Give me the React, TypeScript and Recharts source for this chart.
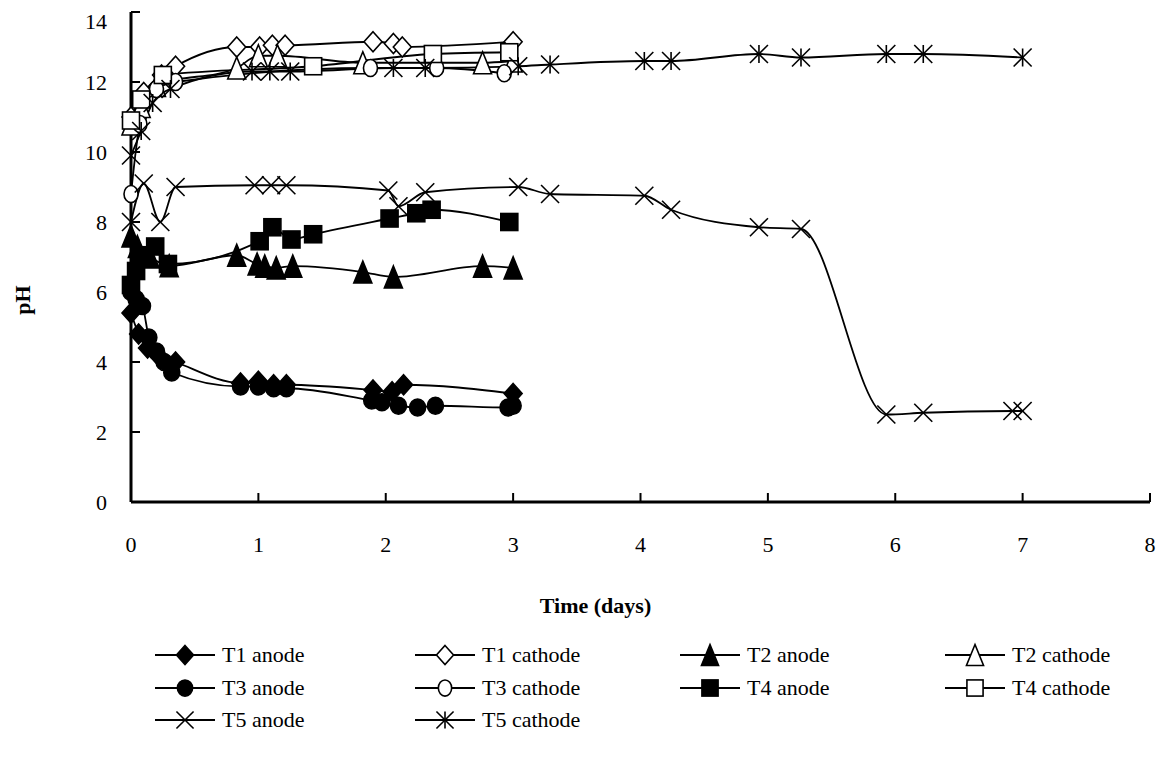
import React from 'react';
import { LineChart, Line, XAxis, YAxis } from 'recharts';

const FONT = '"Liberation Serif", "Times New Roman", Times, serif';

// ---- data (time in days, pH) ----
const t1AnodeTime = [0, 0.06, 0.13, 0.21, 0.35, 0.86, 1.0, 1.12, 1.22, 1.9, 2.05, 2.14, 3.0];
const t1AnodePH = [5.4, 4.8, 4.4, 4.2, 4.0, 3.4, 3.45, 3.35, 3.35, 3.2, 3.15, 3.35, 3.1];

const t1CathodeTime = [0, 0.1, 0.24, 0.35, 0.83, 1.01, 1.11, 1.21, 1.9, 2.06, 2.13, 3.0];
const t1CathodePH = [11.0, 11.7, 12.2, 12.45, 13.0, 13.0, 13.05, 13.05, 13.15, 13.1, 13.0, 13.15];

const t2AnodeTime = [0, 0.05, 0.15, 0.3, 0.83, 0.99, 1.05, 1.14, 1.27, 1.82, 2.06, 2.76, 3.0];
const t2AnodePH = [7.6, 7.3, 7.0, 6.75, 7.05, 6.8, 6.74, 6.69, 6.74, 6.57, 6.43, 6.74, 6.69];

const t2CathodeTime = [0, 0.08, 0.2, 0.83, 1.0, 1.15, 1.82, 2.76, 3.0];
const t2CathodePH = [10.8, 11.3, 11.9, 12.4, 12.75, 12.75, 12.55, 12.55, 12.6];

const t3AnodeTime = [0, 0.04, 0.09, 0.14, 0.2, 0.26, 0.32, 0.86, 1.0, 1.12, 1.22, 1.89, 1.97, 2.1, 2.25, 2.39, 2.96, 3.0];
const t3AnodePH = [6.0, 5.8, 5.6, 4.7, 4.3, 4.0, 3.7, 3.3, 3.3, 3.25, 3.25, 2.9, 2.85, 2.75, 2.7, 2.75, 2.7, 2.75];

const t3CathodeTime = [0, 0.07, 0.2, 0.35, 1.88, 2.4, 2.93];
const t3CathodePH = [8.8, 10.8, 11.8, 12.0, 12.4, 12.4, 12.25];

const t4AnodeTime = [0, 0.04, 0.08, 0.19, 0.29, 1.01, 1.11, 1.26, 1.43, 2.03, 2.24, 2.36, 2.97];
const t4AnodePH = [6.2, 6.6, 7.05, 7.3, 6.8, 7.45, 7.85, 7.5, 7.65, 8.1, 8.25, 8.35, 8.0];

const t4CathodeTime = [0, 0.08, 0.25, 1.43, 2.37, 2.97];
const t4CathodePH = [10.9, 11.5, 12.2, 12.45, 12.8, 12.85];

const t5AnodeTime = [0, 0.1, 0.23, 0.35, 0.97, 1.1, 1.22, 2.02, 2.1, 2.31, 3.04, 3.29, 4.03, 4.24, 4.93, 5.26, 5.93, 6.22, 6.92, 7.0];
const t5AnodePH = [8.0, 9.1, 8.0, 9.0, 9.05, 9.05, 9.05, 8.9, 8.45, 8.85, 9.0, 8.8, 8.75, 8.35, 7.85, 7.8, 2.5, 2.55, 2.6, 2.6];

const t5CathodeTime = [0, 0.08, 0.17, 0.31, 0.95, 1.09, 1.25, 2.06, 2.31, 3.04, 3.29, 4.03, 4.24, 4.93, 5.26, 5.93, 6.22, 7.0];
const t5CathodePH = [9.9, 10.6, 11.4, 11.8, 12.3, 12.3, 12.3, 12.4, 12.4, 12.45, 12.5, 12.6, 12.6, 12.8, 12.7, 12.8, 12.8, 12.7];

const xTicks = [0, 1, 2, 3, 4, 5, 6, 7, 8];
const yTicks = [0, 2, 4, 6, 8, 10, 12, 14];

type Kind = 'diamond' | 'triangle' | 'circle' | 'square' | 'x' | 'star';

const zip = (ts: number[], ps: number[]) => ts.map((t, i) => ({ t, ph: ps[i] }));

const seriesList: { name: string; data: { t: number; ph: number }[]; kind: Kind; filled: boolean }[] = [
  { name: 'T1 anode', data: zip(t1AnodeTime, t1AnodePH), kind: 'diamond', filled: true },
  { name: 'T1 cathode', data: zip(t1CathodeTime, t1CathodePH), kind: 'diamond', filled: false },
  { name: 'T2 anode', data: zip(t2AnodeTime, t2AnodePH), kind: 'triangle', filled: true },
  { name: 'T2 cathode', data: zip(t2CathodeTime, t2CathodePH), kind: 'triangle', filled: false },
  { name: 'T3 anode', data: zip(t3AnodeTime, t3AnodePH), kind: 'circle', filled: true },
  { name: 'T3 cathode', data: zip(t3CathodeTime, t3CathodePH), kind: 'circle', filled: false },
  { name: 'T4 anode', data: zip(t4AnodeTime, t4AnodePH), kind: 'square', filled: true },
  { name: 'T4 cathode', data: zip(t4CathodeTime, t4CathodePH), kind: 'square', filled: false },
  { name: 'T5 anode', data: zip(t5AnodeTime, t5AnodePH), kind: 'x', filled: false },
  { name: 'T5 cathode', data: zip(t5CathodeTime, t5CathodePH), kind: 'star', filled: false },
];

function Marker({ cx, cy, kind, filled, s = 1 }: { cx: number; cy: number; kind: Kind; filled: boolean; s?: number }) {
  const fill = filled ? '#000' : '#fff';
  const sw = 1.6;
  switch (kind) {
    case 'diamond': {
      const w = 9 * s, h = 10 * s;
      return <polygon points={`${cx},${cy - h} ${cx + w},${cy} ${cx},${cy + h} ${cx - w},${cy}`} fill={fill} stroke="#000" strokeWidth={sw} />;
    }
    case 'triangle': {
      const w = 9 * s, h = 11 * s;
      return <polygon points={`${cx},${cy - h} ${cx + w},${cy + h} ${cx - w},${cy + h}`} fill={fill} stroke="#000" strokeWidth={sw} />;
    }
    case 'circle':
      return filled
        ? <ellipse cx={cx} cy={cy} rx={8 * s} ry={8.5 * s} fill="#000" stroke="#000" strokeWidth={sw} />
        : <ellipse cx={cx} cy={cy} rx={7 * s} ry={8.5 * s} fill="#fff" stroke="#000" strokeWidth={sw} />;
    case 'square': {
      const h = 8.5 * s;
      return <rect x={cx - h} y={cy - h} width={2 * h} height={2 * h} fill={fill} stroke="#000" strokeWidth={sw} />;
    }
    case 'x': {
      const h = 9 * s;
      return (
        <g stroke="#000" strokeWidth={sw}>
          <line x1={cx - h} y1={cy - h} x2={cx + h} y2={cy + h} />
          <line x1={cx - h} y1={cy + h} x2={cx + h} y2={cy - h} />
        </g>
      );
    }
    case 'star': {
      const h = 9 * s;
      return (
        <g stroke="#000" strokeWidth={sw}>
          <line x1={cx - h} y1={cy - h} x2={cx + h} y2={cy + h} />
          <line x1={cx - h} y1={cy + h} x2={cx + h} y2={cy - h} />
          <line x1={cx} y1={cy - h} x2={cx} y2={cy + h} />
        </g>
      );
    }
  }
  return null;
}

const makeDot = (kind: Kind, filled: boolean) => (p: any) => {
  if (p == null || p.cx == null || p.cy == null) return <g key={`e-${p?.index}`} />;
  return (
    <g key={`d-${kind}-${filled}-${p.index}`}>
      <Marker cx={p.cx} cy={p.cy} kind={kind} filled={filled} />
    </g>
  );
};

const renderXLabel = (props: any) => {
  const vb = props.viewBox || {};
  return (
    <text x={vb.x + vb.width / 2 - 45} y={vb.y + 103} textAnchor="middle" dominantBaseline="central"
      fontFamily={FONT} fontWeight="bold" fontSize={22} fill="#000">
      Time (days)
    </text>
  );
};

const renderYLabel = (props: any) => {
  const vb = props.viewBox || {};
  const x = vb.x + 14;
  const y = vb.y + vb.height / 2 + 43;
  return (
    <text x={x} y={y} transform={`rotate(-90, ${x}, ${y})`} textAnchor="middle" dominantBaseline="central"
      fontFamily={FONT} fontWeight="bold" fontSize={22} fill="#000">
      pH
    </text>
  );
};

const legendCols = [155, 415, 680, 945];
const legendRows = [655, 688, 720];

export default function App() {
  return (
    <div style={{ position: 'relative', width: 1157, height: 760, fontFamily: FONT }}>
      <LineChart width={1157} height={620} margin={{ top: 4, right: 15, left: 0, bottom: 0 }}>
        <XAxis
          type="number"
          dataKey="t"
          domain={[0, 8]}
          ticks={xTicks}
          height={126}
          axisLine={{ stroke: '#000', strokeWidth: 3 }}
          tickLine={{ stroke: '#000', strokeWidth: 2 }}
          tickSize={-9}
          tickMargin={43}
          tick={{ fill: '#000', fontSize: 22, fontFamily: FONT }}
          label={renderXLabel}
          allowDecimals
        />
        <YAxis
          type="number"
          dataKey="ph"
          domain={[0, 14]}
          ticks={yTicks}
          width={123}
          axisLine={{ stroke: '#000', strokeWidth: 3 }}
          tickLine={{ stroke: '#000', strokeWidth: 2 }}
          tickSize={-9}
          tickMargin={33}
          tick={{ fill: '#000', fontSize: 22, fontFamily: FONT }}
          label={renderYLabel}
        />
        {seriesList.map((s) => (
          <Line
            key={s.name}
            name={s.name}
            data={s.data}
            dataKey="ph"
            type="monotone"
            stroke="#000"
            strokeWidth={1.8}
            dot={makeDot(s.kind, s.filled)}
            activeDot={false}
            isAnimationActive={false}
            legendType="none"
          />
        ))}
      </LineChart>
      {seriesList.map((s, i) => {
        const col = i % 4;
        const row = Math.floor(i / 4);
        const left = legendCols[col] - 8;
        const top = legendRows[row] - 8 - 14;
        return (
          <div key={s.name} style={{ position: 'absolute', left, top, height: 28, display: 'flex', alignItems: 'center' }}>
            <svg width={62} height={28} style={{ display: 'block' }}>
              <line x1={0} y1={14} x2={60} y2={14} stroke="#000" strokeWidth={1.8} />
              <Marker cx={30} cy={14} kind={s.kind} filled={s.filled} s={0.95} />
            </svg>
            <span style={{ marginLeft: 5, fontSize: 22, color: '#000', whiteSpace: 'nowrap', lineHeight: '28px' }}>{s.name}</span>
          </div>
        );
      })}
    </div>
  );
}
